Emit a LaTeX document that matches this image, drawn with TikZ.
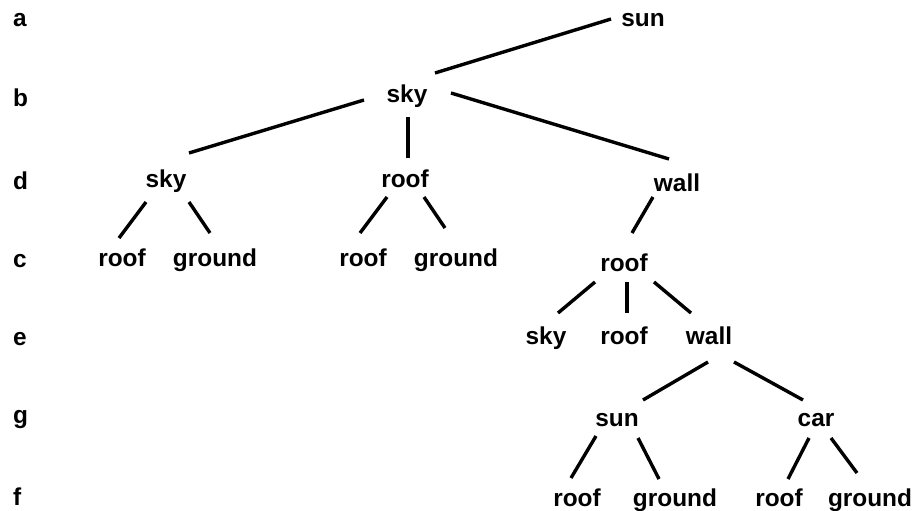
\documentclass[tikz,border=0pt]{standalone}
\usepackage{fontspec}
\setmainfont{Liberation Sans}
\usetikzlibrary{calc}
\begin{document}
\begin{tikzpicture}[x=1pt,y=-1pt,
  tn/.style={anchor=base,inner sep=0pt,font=\fontsize{24.4}{28}\selectfont\bfseries},
  rowlbl/.style={anchor=base west,inner sep=0pt,font=\fontsize{24.4}{28}\selectfont\bfseries},
  edge/.style={line width=3.4pt}]
\useasboundingbox (0,0) rectangle (918,511);
% row labels
\node[rowlbl] (la) at (13,27) {a};
\node[rowlbl] (lb) at (13,106) {b};
\node[rowlbl] (ld) at (13,189) {d};
\node[rowlbl] (lc) at (13,267) {c};
\node[rowlbl] (le) at (13,345) {e};
\node[rowlbl] (lg) at (13,423) {g};
\node[rowlbl] (lf) at (13,505) {f};
% tree nodes
\node[tn] (sunA) at (643,27) {sun};
\node[tn] (skyB) at (407,102) {sky};
\node[tn] (skyD) at (166,187) {sky};
\node[tn] (roofD) at (405,187) {roof};
\node[tn] (wallD) at (677,191) {wall};
\node[tn] (roofC1) at (122,266) {roof};
\node[tn] (groundC1) at (215,266) {ground};
\node[tn] (roofC2) at (363,266) {roof};
\node[tn] (groundC2) at (456,266) {ground};
\node[tn] (roofC3) at (624,271) {roof};
\node[tn] (skyE) at (546,344) {sky};
\node[tn] (roofE) at (624,344) {roof};
\node[tn] (wallE) at (709,344) {wall};
\node[tn] (sunG) at (617,426) {sun};
\node[tn] (carG) at (816,426) {car};
\node[tn] (roofF1) at (577,506) {roof};
\node[tn] (groundF1) at (675,506) {ground};
\node[tn] (roofF2) at (779,506) {roof};
\node[tn] (groundF2) at (870,506) {ground};
% connectors
\draw[edge] ($(skyB.base)+(28,-29)$) -- ($(sunA.base)+(-32,-8)$);
\draw[edge] ($(skyB.base)+(-43,-2)$) -- ($(skyD.base)+(23,-34)$);
\draw[edge] ($(skyB.base)+(1,15)$) -- ($(roofD.base)+(3,-29)$);
\draw[edge] ($(skyB.base)+(44,-9)$) -- ($(wallD.base)+(-8,-32)$);
\draw[edge] ($(skyD.base)+(-20,15)$) -- ($(roofC1.base)+(-3,-28)$);
\draw[edge] ($(skyD.base)+(23,15)$) -- ($(groundC1.base)+(-5,-33)$);
\draw[edge] ($(roofD.base)+(-18,10)$) -- ($(roofC2.base)+(-3,-33)$);
\draw[edge] ($(roofD.base)+(19,10)$) -- ($(groundC2.base)+(-11,-38)$);
\draw[edge] ($(wallD.base)+(-24,6)$) -- ($(roofC3.base)+(8,-38)$);
\draw[edge] ($(roofC3.base)+(-29,11)$) -- ($(skyE.base)+(12,-31)$);
\draw[edge] ($(roofC3.base)+(3,11)$) -- ($(roofE.base)+(3,-31)$);
\draw[edge] ($(roofC3.base)+(30,11)$) -- ($(wallE.base)+(-18,-31)$);
\draw[edge] ($(wallE.base)+(-1,18)$) -- ($(sunG.base)+(26,-26)$);
\draw[edge] ($(wallE.base)+(25,18)$) -- ($(carG.base)+(-13,-26)$);
\draw[edge] ($(sunG.base)+(-21,10)$) -- ($(roofF1.base)+(-6,-28)$);
\draw[edge] ($(sunG.base)+(21,12)$) -- ($(groundF1.base)+(-16,-27)$);
\draw[edge] ($(carG.base)+(-7,12)$) -- ($(roofF2.base)+(9,-27)$);
\draw[edge] ($(carG.base)+(15,12)$) -- ($(groundF2.base)+(-13,-33)$);
\end{tikzpicture}
\end{document}
